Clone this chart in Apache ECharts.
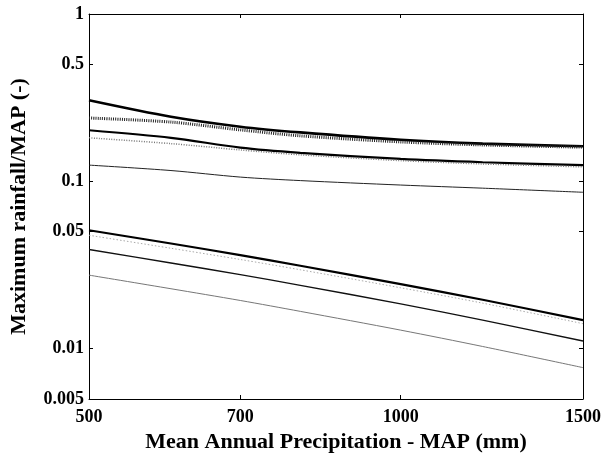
<!DOCTYPE html>
<html>
<head>
<meta charset="utf-8">
<title>Maximum rainfall / MAP</title>
<script src="https://cdn.jsdelivr.net/npm/echarts@6/dist/echarts.min.js"></script>
<style>
  html, body { margin: 0; padding: 0; background: #fff; }
  #chart { width: 601px; height: 458px; }
</style>
</head>
<body>
<div id="chart"></div>
<script>
// MAP (mm) where values were read
const mapValues = [500, 600, 700, 800, 1000, 1200, 1500];
const xTicks = [500, 700, 1000, 1500];
const yTicks = [0.005, 0.01, 0.05, 0.1, 0.5, 1];

// upper group (curves)
const upperA = [0.305, 0.243, 0.212, 0.196, 0.177, 0.168, 0.162];
const upperB = [0.239, 0.226, 0.203, 0.187, 0.172, 0.165, 0.160];
const upperC = [0.202, 0.182, 0.159, 0.148, 0.136, 0.130, 0.125];
const upperD = [0.182, 0.168, 0.154, 0.144, 0.133, 0.127, 0.122];
const upperE = [0.125, 0.116, 0.106, 0.101, 0.095, 0.091, 0.086];
// lower group (near straight)
const lowerA = [0.051, 0.0425, 0.0362, 0.0313, 0.0243, 0.0196, 0.0148];
const lowerB = [0.0476, 0.0398, 0.0341, 0.0296, 0.0231, 0.0187, 0.0141];
const lowerC = [0.0391, 0.0325, 0.0277, 0.0239, 0.0185, 0.0148, 0.0111];
const lowerD = [0.0275, 0.0228, 0.0194, 0.0167, 0.0129, 0.0103, 0.0077];

const styles = [
  { data: upperA, color: '#000', width: 2.6, type: 'solid' },
  { data: upperB, color: '#222', width: 3, type: [1, 1.2] },
  { data: upperC, color: '#000', width: 2.2, type: 'solid' },
  { data: upperD, color: '#777', width: 1.5, type: [1, 1.5] },
  { data: upperE, color: '#222', width: 1, type: 'solid' },
  { data: lowerA, color: '#000', width: 2.2, type: 'solid' },
  { data: lowerB, color: '#aaa', width: 1, type: [1.5, 2] },
  { data: lowerC, color: '#111', width: 1.4, type: 'solid' },
  { data: lowerD, color: '#777', width: 1, type: 'solid' }
];

const font = 'Liberation Serif';

const chart = echarts.init(document.getElementById('chart'));
const option = {
  animation: false,
  backgroundColor: '#fff',
  grid: { left: 89, right: 18, top: 14, bottom: 59, containLabel: false, outerBoundsMode: 'none' },
  xAxis: [{
    type: 'log',
    min: 500,
    max: 1500,
    name: 'Mean Annual Precipitation - MAP (mm)',
    nameLocation: 'middle',
    nameGap: 31,
    nameTextStyle: { fontFamily: font, fontWeight: 'bold', fontSize: 22, color: '#000' },
    axisLine: { lineStyle: { color: '#000', width: 1 } },
    axisTick: { inside: true, length: 4, customValues: xTicks, lineStyle: { color: '#000' } },
    axisLabel: {
      customValues: xTicks,
      margin: 9,
      fontFamily: font, fontWeight: 'bold', fontSize: 18, color: '#000',
      formatter: v => String(Math.round(v))
    },
    splitLine: { show: false },
    minorTick: { show: false }
  }, {
    type: 'log',
    position: 'top',
    min: 500,
    max: 1500,
    axisLine: { show: true, lineStyle: { color: '#000', width: 1 } },
    axisTick: { inside: true, length: 4, customValues: xTicks, lineStyle: { color: '#000' } },
    axisLabel: { show: false },
    splitLine: { show: false }
  }],
  yAxis: [{
    type: 'log',
    min: 0.005,
    max: 1,
    name: 'Maximum rainfall/MAP (-)',
    nameLocation: 'middle',
    nameGap: 59,
    nameTextStyle: { fontFamily: font, fontWeight: 'bold', fontSize: 22, color: '#000' },
    axisLine: { show: true, lineStyle: { color: '#000', width: 1 } },
    axisTick: { show: true, inside: true, length: 4, customValues: yTicks, lineStyle: { color: '#000' } },
    axisLabel: {
      customValues: yTicks,
      margin: 5,
      fontFamily: font, fontWeight: 'bold', fontSize: 18, color: '#000',
      formatter: v => String(v)
    },
    splitLine: { show: false }
  }, {
    type: 'log',
    position: 'right',
    min: 0.005,
    max: 1,
    axisLine: { show: true, lineStyle: { color: '#000', width: 1 } },
    axisTick: { show: true, inside: true, length: 4, customValues: yTicks, lineStyle: { color: '#000' } },
    axisLabel: { show: false },
    splitLine: { show: false }
  }],
  series: styles.map(s => ({
    type: 'line',
    data: mapValues.map((x, i) => [x, s.data[i]]),
    smooth: 0.3,
    symbol: 'none',
    lineStyle: { color: s.color, width: s.width, type: s.type }
  }))
};
chart.setOption(option);
</script>
</body>
</html>
